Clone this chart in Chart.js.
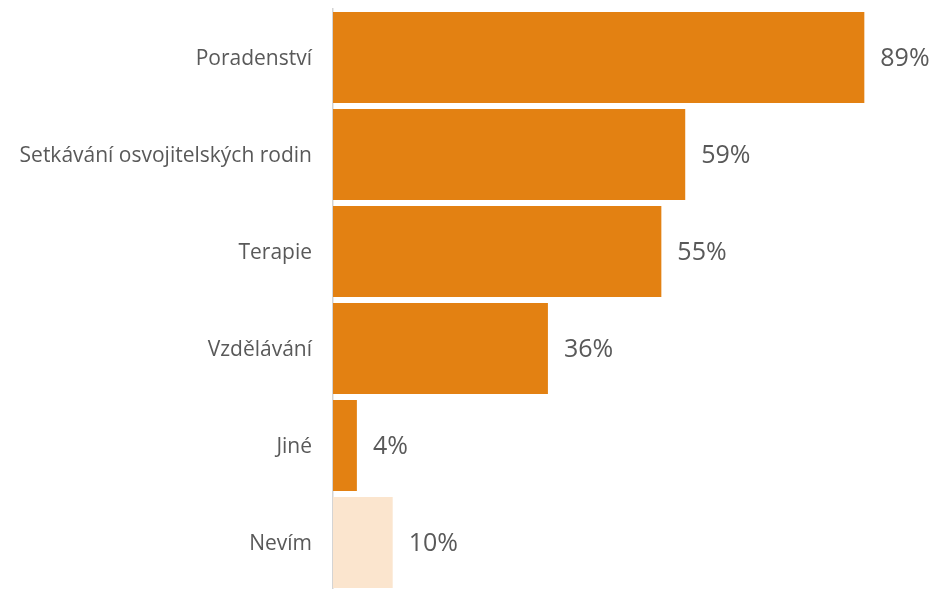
<!DOCTYPE html>
<html>
<head>
<meta charset="utf-8">
<script src="https://cdn.jsdelivr.net/npm/chart.js@4"></script>
<style>
  html, body { margin: 0; padding: 0; background: #fff; overflow: hidden; }
  canvas { display: block; }
</style>
</head>
<body>
<canvas id="servicesChart" width="935" height="591"></canvas>
<script>
const categories = ['Poradenství', 'Setkávání osvojitelských rodin', 'Terapie', 'Vzdělávání', 'Jiné', 'Nevím'];
const values = [89, 59, 55, 36, 4, 10];
const barColors = ['#E38112', '#E38112', '#E38112', '#E38112', '#E38112', '#FBE5CE'];

const textColor = '#595959';
const fontFamily = '"Open Sans", "Noto Sans", sans-serif';

// draws the percentage next to each bar
const valueLabels = {
    id: 'valueLabels',
    afterDatasetsDraw(chart) {
        const c = chart.ctx;
        const meta = chart.getDatasetMeta(0);
        c.save();
        c.font = '25px ' + fontFamily;
        c.fillStyle = textColor;
        c.textAlign = 'left';
        c.textBaseline = 'middle';
        meta.data.forEach((bar, i) => {
            c.fillText(values[i] + '%', bar.x + 16, bar.y + 1);
        });
        c.restore();
    }
};

const ctx = document.getElementById('servicesChart');

new Chart(ctx, {
    type: 'bar',
    data: {
        labels: categories,
        datasets: [{
            data: values,
            backgroundColor: barColors,
            borderWidth: 0,
            barPercentage: 0.94,
            categoryPercentage: 1
        }]
    },
    options: {
        indexAxis: 'y',
        responsive: false,
        animation: false,
        layout: {
            padding: { top: 9, right: 5, bottom: 0, left: 0 }
        },
        plugins: {
            legend: { display: false },
            tooltip: { enabled: false }
        },
        scales: {
            x: {
                display: false,
                min: 0,
                max: 100
            },
            y: {
                grid: { display: false, drawTicks: false },
                border: { color: '#D4D4D4', width: 1.5 },
                ticks: {
                    color: textColor,
                    font: { family: fontFamily, size: 21 },
                    padding: 21,
                    labelOffset: 2
                },
                afterFit(scale) {
                    scale.width = 333;
                    // tick padding would otherwise push the plot down
                    scale.paddingTop = 0;
                    scale.paddingBottom = 0;
                }
            }
        }
    },
    plugins: [valueLabels]
});
</script>
</body>
</html>
